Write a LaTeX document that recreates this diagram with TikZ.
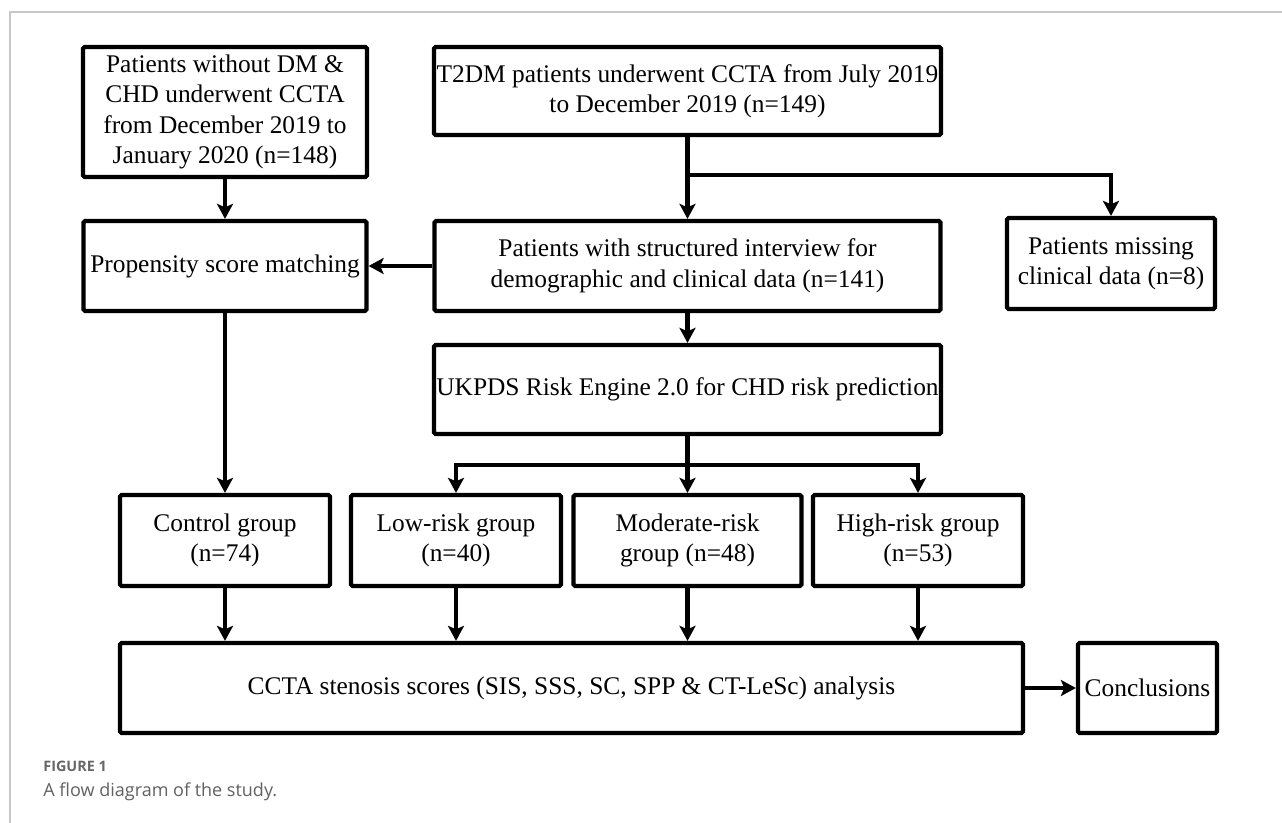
\documentclass[tikz,border=0pt]{standalone}
\usepackage{fontspec}
\setmainfont{Liberation Serif}
\newfontfamily\capfont{Open Sans}
\usetikzlibrary{arrows.meta}
\begin{document}
\begin{tikzpicture}[x=0.5pt,y=-0.5pt,
  box/.style={draw=black, line width=2.1pt, rectangle, rounded corners=0.8pt, align=center,
    inner sep=0pt, font=\fontsize{12.7}{15.2}\selectfont},
  bw/.style={minimum width=#1*0.5pt},
  bh/.style={minimum height=#1*0.5pt},
  conn/.style={line width=2.1pt, -{Stealth[length=7.5pt,width=8pt,inset=1.7pt]}},
  plain/.style={line width=2.1pt},
  framel/.style={draw=black!22, line width=0.8pt}]
\useasboundingbox (0,0) rectangle (1282,823);
\draw[framel] (10,823) -- (10,12) -- (1282,12);

\node[box, bw=284, bh=130] (A) at (225,112)
  {Patients without DM \&\\CHD underwent CCTA\\from December 2019 to\\January 2020 (n=148)};
\node[box, bw=507, bh=88] (B) at (687.5,91)
  {T2DM patients underwent CCTA from July 2019\\to December 2019 (n=149)};
\node[box, bw=283, bh=90] (P) at (225,266)
  {Propensity score matching};
\node[box, bw=506, bh=90] (S) at (687.5,266)
  {Patients with structured interview for\\demographic and clinical data (n=141)};
\node[box, bw=208, bh=91] (M) at (1111,263.5)
  {Patients missing\\clinical data (n=8)};
\node[box, bw=507, bh=89] (U) at (687.5,389.5)
  {UKPDS Risk Engine 2.0 for CHD risk prediction};
\node[box, bw=210, bh=91] (C) at (225,540.5)
  {Control group\\(n=74)};
\node[box, bw=210, bh=91] (L) at (456,540.5)
  {Low-risk group\\(n=40)};
\node[box, bw=228, bh=91] (Mo) at (687.5,540.5)
  {Moderate-risk\\group (n=48)};
\node[box, bw=210, bh=91] (H) at (918,540.5)
  {High-risk group\\(n=53)};
\node[box, bw=903, bh=90] (CC) at (571.5,688)
  {CCTA stenosis scores (SIS, SSS, SC, SPP \& CT-LeSc) analysis};
\node[box, bw=139, bh=90] (Co) at (1147.5,688)
  {Conclusions};

\coordinate (jB) at (687.5,175);
\coordinate (jU) at (687.5,465);

\draw[conn] (A.south) -- (P.north);
\draw[conn] (B.south) -- (S.north);
\draw[conn] (jB) -| (M.north);
\draw[conn] (S.west) -- (P.east);
\draw[conn] (S.south) -- (U.north);
\draw[conn] (P.south) -- (C.north);
\draw[plain] (U.south) -- (jU);
\draw[conn] (jU) -| (L.north);
\draw[conn] (jU) -| (H.north);
\draw[conn] (jU) -- (Mo.north);
\draw[conn] (C.south) -- (C.south |- CC.north);
\draw[conn] (L.south) -- (L.south |- CC.north);
\draw[conn] (Mo.south) -- (Mo.south |- CC.north);
\draw[conn] (H.south) -- (H.south |- CC.north);
\draw[conn] (CC.east) -- (Co.west);

\node[anchor=base west, inner sep=0pt, text=black!60, font=\capfont\fontsize{7.2}{9}\selectfont\bfseries] (cap1) at (43,772) {FIGURE 1};
\node[anchor=base west, inner sep=0pt, text=black!62, font=\capfont\fontsize{9}{11}\selectfont] (cap2) at (43,797) {A flow diagram of the study.};
\end{tikzpicture}
\end{document}
